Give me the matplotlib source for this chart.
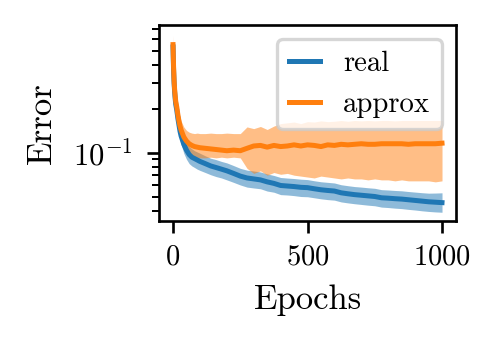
import numpy as np
import matplotlib
matplotlib.use("Agg")
import matplotlib.pyplot as plt

plt.rcParams['font.family'] = 'serif'
plt.rcParams['font.serif'] = ['cmr10']
plt.rcParams['mathtext.fontset'] = 'cm'
plt.rcParams['axes.formatter.use_mathtext'] = True

epochs = [0, 2, 4, 6, 8, 10, 14, 18, 22, 26, 30, 40, 50, 60, 70, 80, 90, 100,
          120, 140, 160, 180, 200, 225, 250, 275, 300, 325, 350, 375, 400, 425,
          450, 475, 500, 525, 550, 575, 600, 625, 650, 675, 700, 725, 750, 775,
          800, 825, 850, 875, 900, 925, 950, 975, 1000]

# real error: mean and band
real_mean = [0.53, 0.37, 0.30, 0.26, 0.235, 0.215, 0.195, 0.172, 0.155, 0.140, 0.130,
             0.114, 0.104, 0.097, 0.093, 0.091, 0.089, 0.087, 0.084, 0.081, 0.079,
             0.077, 0.075, 0.072, 0.069, 0.067, 0.066, 0.065, 0.063, 0.0615,
             0.0595, 0.0590, 0.0585, 0.0578, 0.0575, 0.0565, 0.0556, 0.0550, 0.0545,
             0.0530, 0.0522, 0.0515, 0.0510, 0.0505, 0.0500, 0.0490, 0.0487, 0.0483,
             0.0480, 0.0475, 0.0470, 0.0465, 0.0460, 0.0457, 0.0454]
real_low = [0.50, 0.35, 0.28, 0.24, 0.215, 0.195, 0.175, 0.153, 0.137, 0.123, 0.114,
            0.099, 0.090, 0.084, 0.081, 0.079, 0.077, 0.0755, 0.073, 0.0705, 0.0685,
            0.067, 0.065, 0.0625, 0.060, 0.058, 0.0572, 0.0565, 0.0545, 0.0535,
            0.0515, 0.0512, 0.0507, 0.0500, 0.0498, 0.0490, 0.0482, 0.0476, 0.0472,
            0.0459, 0.0452, 0.0446, 0.0441, 0.0436, 0.0432, 0.0423, 0.0420, 0.0416,
            0.0413, 0.0408, 0.0404, 0.0399, 0.0395, 0.0392, 0.0390]
real_high = [0.56, 0.39, 0.32, 0.28, 0.255, 0.235, 0.215, 0.192, 0.174, 0.157, 0.146,
             0.129, 0.118, 0.110, 0.106, 0.103, 0.101, 0.099, 0.095, 0.0915, 0.0895,
             0.087, 0.085, 0.0815, 0.078, 0.0758, 0.0748, 0.0737, 0.0714, 0.0697,
             0.0675, 0.0669, 0.0664, 0.0657, 0.0653, 0.0641, 0.0631, 0.0625, 0.0619,
             0.0602, 0.0593, 0.0585, 0.0580, 0.0574, 0.0569, 0.0557, 0.0554, 0.0550,
             0.0547, 0.0541, 0.0536, 0.0531, 0.0527, 0.0528, 0.0530]

# approx error: mean and band
approx_mean = [0.55, 0.39, 0.31, 0.27, 0.245, 0.225, 0.205, 0.182, 0.165, 0.152, 0.143,
               0.128, 0.120, 0.115, 0.112, 0.110, 0.109, 0.108, 0.107, 0.106, 0.105,
               0.104, 0.103, 0.104, 0.103, 0.107, 0.111, 0.112, 0.109, 0.112, 0.110,
               0.111, 0.113, 0.111, 0.113, 0.112, 0.110, 0.113, 0.112, 0.114, 0.113,
               0.114, 0.115, 0.114, 0.114, 0.115, 0.115, 0.115, 0.115, 0.114, 0.115,
               0.115, 0.115, 0.115, 0.116]
approx_low = [0.52, 0.36, 0.285, 0.245, 0.22, 0.2, 0.18, 0.158, 0.142, 0.128, 0.118,
              0.104, 0.098, 0.095, 0.094, 0.093, 0.093, 0.092, 0.092, 0.093, 0.092,
              0.093, 0.092, 0.093, 0.092, 0.078, 0.072, 0.075, 0.070, 0.073, 0.071,
              0.072, 0.070, 0.069, 0.068, 0.067, 0.069, 0.068, 0.067, 0.066, 0.067,
              0.066, 0.066, 0.065, 0.066, 0.065, 0.065, 0.064, 0.065, 0.064, 0.064,
              0.064, 0.064, 0.063, 0.064]
approx_high = [0.64, 0.42, 0.34, 0.30, 0.27, 0.25, 0.23, 0.205, 0.188, 0.175, 0.165,
               0.150, 0.142, 0.138, 0.136, 0.135, 0.136, 0.135, 0.135, 0.136, 0.135,
               0.135, 0.136, 0.135, 0.135, 0.150, 0.146, 0.151, 0.144, 0.152, 0.158,
               0.160, 0.162, 0.158, 0.163, 0.162, 0.165, 0.163, 0.164, 0.166, 0.164,
               0.166, 0.165, 0.166, 0.165, 0.166, 0.166, 0.165, 0.166, 0.166, 0.166,
               0.166, 0.166, 0.166, 0.166]

fig = plt.figure(figsize=(497 / 240, 342 / 240), dpi=240)
ax = fig.add_axes([0.32, 0.354, 0.5975, 0.573])

ax.fill_between(epochs, real_low, real_high, color='tab:blue', alpha=0.5, lw=0)
ax.plot(epochs, real_mean, color='tab:blue', lw=1.5, label='real')
ax.fill_between(epochs, approx_low, approx_high, color='tab:orange', alpha=0.5, lw=0)
ax.plot(epochs, approx_mean, color='tab:orange', lw=1.5, label='approx')

ax.set_yscale('log')
ax.set_ylim(0.034, 0.75)
ax.set_xlim(-52, 1052)
ax.set_xticks([0, 500, 1000])
ax.tick_params(axis='x', labelsize=8.6)
ax.tick_params(axis='y', labelsize=9.2, pad=4.5)
ax.set_xlabel('Epochs', fontsize=10.4)
ax.set_ylabel('Error', fontsize=10.4, labelpad=4.5)
ax.legend(loc='upper right', fontsize=8.6, handlelength=1.1)

fig.savefig('out.png', dpi=240)
